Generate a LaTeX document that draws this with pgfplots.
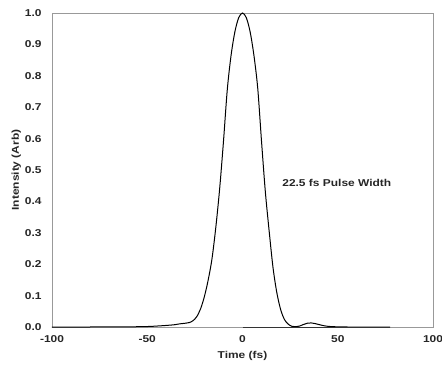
\documentclass[border=0pt]{standalone}
\usepackage{fontspec}
\setmainfont{Liberation Sans}[FakeStretch=1.2]
\usepackage{pgfplots}
\pgfplotsset{compat=1.18}
\begin{document}
\begin{tikzpicture}
\useasboundingbox (-52bp,-39bp) rectangle (390bp,327bp);
\begin{axis}[
  at={(0,0)}, anchor=south west,
  scale only axis, width=381bp, height=314bp,
  xmin=-100, xmax=100, ymin=0, ymax=1,
  xtick={-100,-50,0,50,100},
  ytick={0,0.1,...,1.0},
  /pgf/number format/assume math mode=true,
  yticklabel style={/pgf/number format/fixed,/pgf/number format/fixed zerofill,/pgf/number format/precision=1},
  major tick length=0pt,
  axis line style={draw=black!40, line width=0.8bp},
  tick label style={font=\bfseries\fontsize{10}{12}\selectfont, text=black!85},
  xticklabel style={yshift=-5bp},
  yticklabel style={xshift=-7bp},
  label style={font=\bfseries\fontsize{10}{12}\selectfont, text=black!85},
  xlabel={Time (fs)},
  ylabel={Intensity (Arb)},
  xlabel style={yshift=-2bp},
  ylabel style={yshift=-3bp},
  clip=false,
]
\addplot[black, line width=1bp, smooth] coordinates {
(-100,0) (-80,0) (-60,0.0005) (-50,0.0015) (-45,0.003) (-40,0.005) (-36,0.007) (-33,0.01) (-30,0.012)
(-28,0.014) (-26,0.02) (-24,0.033) (-22,0.058) (-20,0.097) (-18,0.15) (-16,0.218) (-14,0.318)
(-12,0.44) (-10,0.59) (-8,0.755) (-6,0.865) (-4,0.94) (-2,0.985) (0,1.0) (2,0.985) (4,0.94)
(6,0.865) (8,0.76) (10,0.59) (12,0.43) (14,0.305) (16,0.19) (18,0.11) (20,0.056) (22,0.024)
(24,0.009) (26,0.002) (28,0.001) (30,0.003) (32,0.008) (34,0.012) (36,0.013) (38,0.011) (40,0.008)
(42,0.005) (45,0.002) (50,0.0005) (55,0) (77.5,0)
};
\addplot[black!80, line width=0.9bp] coordinates {(0,0) (77.5,0)};
\node[font=\bfseries\fontsize{10}{12}\selectfont, text=black!85] at (axis cs:49.5,0.46) {22.5 fs Pulse Width};
\end{axis}
\end{tikzpicture}
\end{document}
